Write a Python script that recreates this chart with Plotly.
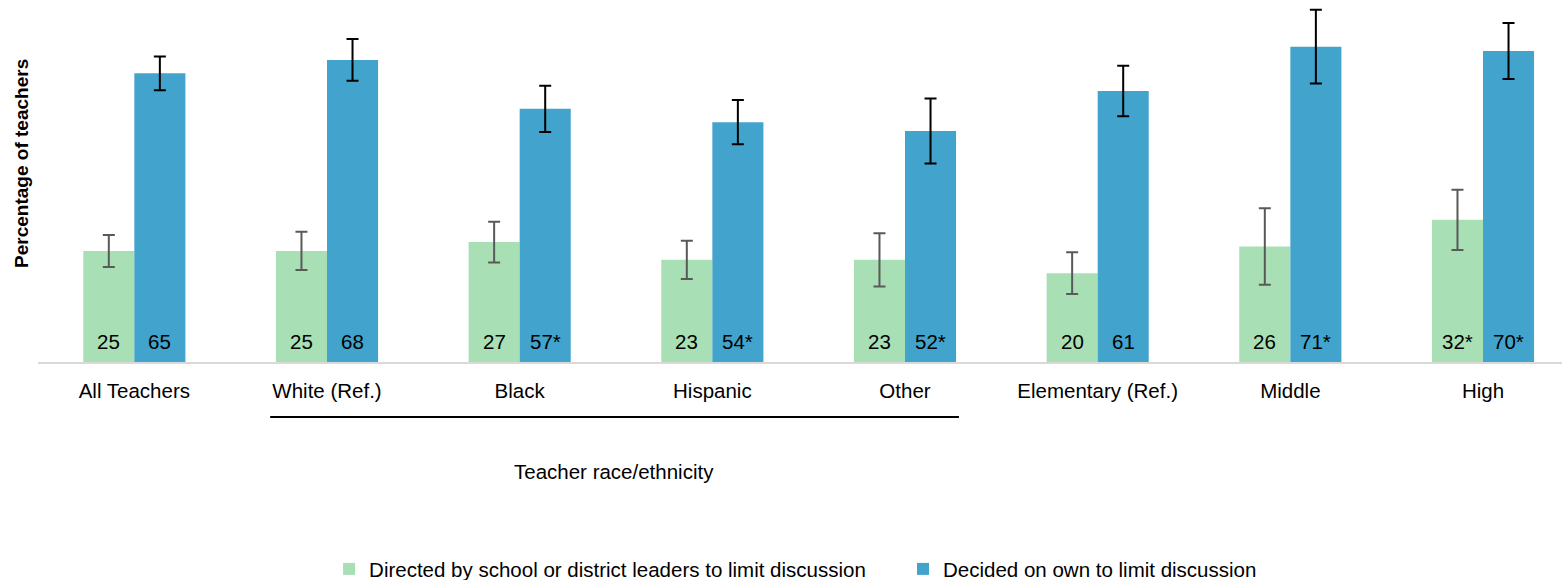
import plotly.graph_objects as go

categories = ["All Teachers", "White (Ref.)", "Black", "Hispanic", "Other",
              "Elementary (Ref.)", "Middle", "High"]

directed_values = [25, 25, 27, 23, 23, 20, 26, 32]
directed_labels = ["25", "25", "27", "23", "23", "20", "26", "32*"]
directed_err = [3.6, 4.3, 4.6, 4.3, 6.0, 4.7, 8.6, 6.8]

own_values = [65, 68, 57, 54, 52, 61, 71, 70]
own_labels = ["65", "68", "57*", "54*", "52*", "61", "71*", "70*"]
own_err = [3.8, 4.7, 5.2, 5.0, 7.3, 5.7, 8.3, 6.3]

GREEN = "#a9dfb5"
BLUE = "#42a3cc"
FONT = "Liberation Sans, Arial, sans-serif"
TXT = 20.5

x_idx = list(range(len(categories)))

fig = go.Figure()
fig.add_trace(go.Bar(
    x=x_idx, y=directed_values,
    name="Directed by school or district leaders to limit discussion",
    marker=dict(color=GREEN, line=dict(width=0)),
    error_y=dict(type="data", array=directed_err, visible=True,
                 color="#595959", thickness=2, width=6),
    legend="legend",
))
fig.add_trace(go.Bar(
    x=x_idx, y=own_values,
    name="Decided on own to limit discussion",
    marker=dict(color=BLUE, line=dict(width=0)),
    error_y=dict(type="data", array=own_err, visible=True,
                 color="#000000", thickness=2, width=6),
    legend="legend2",
))

# value labels sitting near the base of each bar
BAR_SHIFT = 25.5
for i in x_idx:
    for lab, shift in ((directed_labels[i], -BAR_SHIFT), (own_labels[i], BAR_SHIFT)):
        fig.add_annotation(x=i, y=0, xref="x", yref="y", text=lab,
                           xshift=shift, yshift=21, showarrow=False,
                           xanchor="center", yanchor="middle",
                           font=dict(family=FONT, size=TXT, color="#000000"))

# bracket under the race/ethnicity group
fig.add_shape(type="line", xref="x", yref="paper",
              x0=0.705, x1=4.28, y0=-0.152, y1=-0.152,
              line=dict(color="#000000", width=2))
fig.add_annotation(text="Teacher race/ethnicity", xref="x", yref="paper",
                   x=2.49, y=-0.302, showarrow=False,
                   xanchor="center", yanchor="middle",
                   font=dict(family=FONT, size=TXT, color="#000000"))
fig.add_annotation(text="<b>Percentage of teachers</b>", xref="paper", yref="paper",
                   x=-0.0105, y=0.55, textangle=-90, showarrow=False,
                   xanchor="center", yanchor="middle",
                   font=dict(family=FONT, size=19, color="#000000"))

legend_common = dict(orientation="h", yanchor="middle", y=-0.572,
                     font=dict(family=FONT, size=TXT, color="#000000"),
                     itemwidth=30, bgcolor="rgba(0,0,0,0)")

fig.update_layout(
    width=1562, height=580,
    margin=dict(l=38, r=0, t=0, b=218, autoexpand=False),
    paper_bgcolor="white", plot_bgcolor="white",
    barmode="group", bargap=0.47, bargroupgap=0,
    showlegend=True,
    legend=dict(x=0.191, xanchor="left", **legend_common),
    legend2=dict(x=0.5676, xanchor="left", **legend_common),
    xaxis=dict(range=[-0.5, 7.41], tickmode="array", tickvals=x_idx, ticktext=categories,
               showline=True, linecolor="#d9d9d9", linewidth=2, showgrid=False,
               ticks="", tickfont=dict(family=FONT, size=TXT, color="#000000"),
               ticklabelstandoff=9, zeroline=False),
    yaxis=dict(range=[0, 81.5], showticklabels=False, showgrid=False,
               zeroline=False, showline=False, ticks=""),
)

fig.write_html("out.html")
